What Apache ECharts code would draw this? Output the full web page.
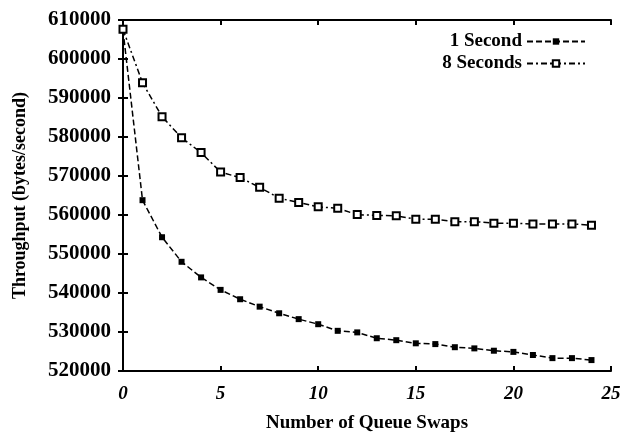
<!DOCTYPE html>
<html>
<head>
<meta charset="utf-8">
<script src="https://cdn.jsdelivr.net/npm/echarts@6/dist/echarts.min.js"></script>
<style>
  html, body { margin: 0; padding: 0; background: #fff; }
  #chart { width: 621px; height: 433px; }
</style>
</head>
<body>
<div id="chart"></div>
<script>
// 数据
const swaps = [0, 1, 2, 3, 4, 5, 6, 7, 8, 9, 10, 11, 12, 13, 14, 15, 16, 17, 18, 19, 20, 21, 22, 23, 24]
const oneSecond = [607400, 563800, 554300, 548000, 544000, 540800, 538400, 536500, 534800, 533300, 532000, 530300, 529900,
  528400, 527900, 527100, 526900, 526100, 525800, 525200, 524900, 524100, 523300, 523300, 522800]
const eightSeconds = [607600, 593900, 585200, 579800, 576000, 571000, 569600, 567100, 564300, 563200, 562100, 561700, 560100,
  559900, 559800, 558900, 558900, 558300, 558300, 557900, 557900, 557700, 557700, 557700, 557400]
const xTicks = [0, 5, 10, 15, 20, 25]
const yMin = 520000
const yMax = 610000

const font = 'Liberation Serif'
const toPairs = (ys) => swaps.map((x, i) => [x, ys[i]])

const chart = echarts.init(document.getElementById('chart'))

const axisLine = { show: true, lineStyle: { color: '#000', width: 2 } }
const axisTick = { show: true, inside: true, length: 5, lineStyle: { color: '#000', width: 2 } }

chart.setOption({
  animation: false,
  backgroundColor: '#fff',
  grid: { left: 123, top: 20, right: 10, bottom: 62, outerBoundsMode: 'none' },
  legend: {
    orient: 'vertical',
    right: 30,
    top: 27,
    align: 'right',
    itemWidth: 58,
    itemHeight: 8,
    itemGap: 3,
    textStyle: { fontFamily: font, fontWeight: 'bold', fontSize: 19, color: '#000' },
    data: ['1 Second', '8 Seconds']
  },
  xAxis: [
    {
      type: 'value', min: 0, max: 25, interval: 5,
      name: 'Number of Queue Swaps', nameLocation: 'middle', nameGap: 43,
      nameTextStyle: { fontFamily: font, fontWeight: 'bold', fontSize: 19, color: '#000' },
      axisLine, axisTick,
      axisLabel: {
        fontFamily: font, fontWeight: 'bold', fontStyle: 'italic', fontSize: 19, color: '#000', margin: 14,
        formatter: (v) => (xTicks.includes(v) ? String(v) : '')
      },
      splitLine: { show: false }
    },
    {
      type: 'value', position: 'top', min: 0, max: 25, interval: 5,
      axisLine, axisTick, axisLabel: { show: false }, splitLine: { show: false }
    }
  ],
  yAxis: [
    {
      type: 'value', min: yMin, max: yMax, interval: 10000,
      name: 'Throughput (bytes/second)', nameLocation: 'middle', nameGap: 94, nameRotate: 90,
      nameTextStyle: { fontFamily: font, fontWeight: 'bold', fontSize: 18, color: '#000' },
      axisLine, axisTick,
      axisLabel: {
        fontFamily: font, fontWeight: 'bold', fontSize: 21, color: '#000', margin: 12,
        formatter: (v) => String(v)
      },
      splitLine: { show: false }
    },
    {
      type: 'value', position: 'right', min: yMin, max: yMax, interval: 10000,
      axisLine, axisTick, axisLabel: { show: false }, splitLine: { show: false }
    }
  ],
  series: [
    {
      name: '1 Second',
      type: 'line',
      data: toPairs(oneSecond),
      symbol: 'rect',
      symbolSize: 6,
      itemStyle: { color: '#000' },
      lineStyle: { color: '#000', width: 1.5, type: [6, 3] }
    },
    {
      name: '8 Seconds',
      type: 'line',
      data: toPairs(eightSeconds),
      symbol: 'rect',
      symbolSize: 7,
      itemStyle: { color: '#fff', borderColor: '#000', borderWidth: 2 },
      lineStyle: { color: '#000', width: 1.5, type: [6, 3, 2, 3] }
    }
  ]
})

window.addEventListener('resize', () => chart.resize())
</script>
</body>
</html>
